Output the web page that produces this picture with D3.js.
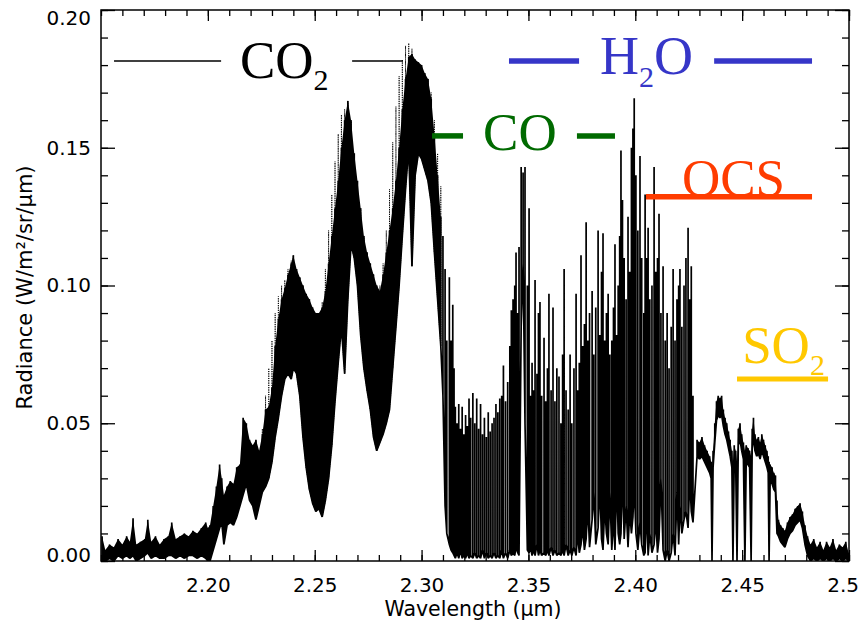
<!DOCTYPE html>
<html>
<head>
<meta charset="utf-8">
<script src="https://cdn.jsdelivr.net/npm/d3@7"></script>
<style>
	body { margin: 0; background: #fff; }
	svg { display: block; }
	.axis text { font-family: "DejaVu Sans", sans-serif; font-size: 20px; fill: #000; }
	.axis path { display: none; }
	.axis line { stroke: #000; stroke-width: 1.3; }
	.mol { font-family: "Liberation Serif", "Times New Roman", serif; }
</style>
</head>
<body>
<div id="chart"></div>
<script>
// continuum 2.15 - 2.20 um
var wlA = [2.1505,2.1520,2.1540,2.1560,2.1580,2.1600,2.1620,2.1635,2.1650,2.1665,
	2.1685,2.1705,2.1719,2.1735,2.1755,2.1775,2.1795,2.1815,2.1831,2.1850,
	2.1870,2.1890,2.1910,2.1930,2.1950,2.1970,2.1990,2.2000];
var hiA = [.009,.004,.006,.005,.008,.006,.009,.007,.0155,.006,
	.007,.008,.015,.007,.009,.006,.008,.009,.014,.008,
	.009,.010,.009,.011,.010,.012,.014,.012];
var loA = [0,0,.001,0,.002,.001,.002,.001,.002,0,
	.001,.002,.003,.001,.002,.001,.001,.002,.002,.001,
	.002,.001,.002,.002,.001,.002,.001,0];

// CO2 bands 2.20 - 2.31 um (upper / lower edge of the dense trace)
var wlB = [2.2010,2.2025,2.2040,2.2055,2.2065,2.2075,2.2090,2.2105,2.2120,2.2135,
	2.2150,2.2165,2.2180,2.2195,2.2210,2.2225,2.2240,2.2255,2.2270,2.2285,
	2.2300,2.2315,2.2330,2.2345,2.2360,2.2375,2.2390,2.2400,2.2415,2.2430,
	2.2445,2.2460,2.2475,2.2490,2.2505,2.2520,2.2535,2.2550,2.2565,2.2580,
	2.2595,2.2610,2.2625,2.2640,2.2655,2.2670,2.2685,2.2700,2.2715,2.2730,
	2.2745,2.2760,2.2775,2.2790,2.2805,2.2820,2.2835,2.2850,2.2865,2.2880,
	2.2895,2.2910,2.2925,2.2940,2.2955,2.2970,2.2985,2.3000,2.3015,2.3030,
	2.3045,2.3060,2.3075,2.3090];
var hiB = [.013,.020,.027,.035,.030,.024,.027,.029,.028,.034,
	.035,.052,.050,.044,.042,.044,.040,.046,.055,.056,
	.063,.078,.088,.095,.099,.104,.108,.111,.106,.103,
	.100,.097,.095,.092,.090,.090,.092,.098,.108,.118,
	.128,.138,.150,.160,.167,.160,.148,.138,.128,.118,
	.112,.108,.104,.100,.098,.104,.112,.120,.128,.138,
	.150,.164,.175,.183,.184,.182,.181,.180,.177,.175,
	.168,.155,.140,.125];
var loB = [.000,.004,.008,.012,.014,.006,.013,.014,.013,.016,
	.020,.024,.028,.022,.020,.015,.020,.025,.027,.030,
	.036,.045,.052,.060,.066,.068,.066,.070,.068,.060,
	.045,.034,.026,.021,.018,.019,.016,.022,.030,.042,
	.058,.072,.085,.068,.095,.115,.110,.100,.082,.070,
	.062,.055,.045,.040,.043,.046,.050,.055,.070,.085,
	.100,.118,.135,.150,.107,.140,.148,.146,.142,.138,
	.130,.112,.095,.078];

// resolved lines 2.31 - 2.346 um
var wlL1 = [2.3100,2.3110,2.3118,2.3130,2.3138,2.3146,2.3152,
	2.3158,2.3166,2.3174,2.3182,2.3190,2.3198,2.3206,2.3214,2.3222,2.3230,
	2.3240,2.3249,2.3258,2.3267,2.3276,2.3285,2.3294,2.3303,2.3312,2.3321,
	2.3330,2.3339,2.3348,2.3357,2.3366,2.3375,2.3383,2.3393,2.3403,2.3413,
	2.3420,2.3428,2.3436,2.3442,2.3450,2.3456];
var hiL1 = [.118,.106,.080,.103,.080,.093,.070,
	.056,.050,.057,.048,.056,.046,.053,.049,.059,.052,
	.061,.050,.059,.048,.057,.046,.052,.045,.054,.047,
	.050,.052,.057,.054,.059,.060,.071,.058,.065,.078,
	.091,.095,.100,.112,.090,.114];
var loL1 = [.060,.020,.010,.006,.004,.003,.002,
	.001,.003,.001,.004,.001,.002,.001,.003,.001,.002,
	.001,.003,.001,.002,.001,.004,.001,.003,.001,.002,
	.001,.003,.001,.002,.001,.004,.001,.003,.001,.004,
	.002,.003,.002,.005,.003,.002];

// resolved lines 2.346 - 2.428 um
var wlL2 = [2.3466,2.3475,2.3484,2.3495,2.3503,2.3510,2.3517,2.3524,2.3531,2.3540,
	2.3547,2.3554,2.3562,2.3573,2.3581,2.3589,2.3596,2.3606,2.3615,2.3624,
	2.3633,2.3643,2.3652,2.3660,2.3667,2.3676,2.3686,2.3695,2.3703,2.3713,
	2.3723,2.3730,2.3738,2.3746,2.3754,2.3762,2.3770,2.3778,2.3786,2.3798,
	2.3806,2.3815,2.3826,2.3834,2.3842,2.3849,2.3857,2.3865,2.3873,2.3881,
	2.3890,2.3898,2.3905,2.3913,2.3920,2.3927,2.3933,2.3940,2.3948,2.3957,
	2.3966,2.3974,2.3982,2.3989,2.3995,2.4003,2.4012,2.4022,2.4030,2.4040,
	2.4046,2.4053,2.4060,2.4068,2.4078,2.4088,2.4096,2.4104,2.4111,2.4120,
	2.4130,2.4140,2.4149,2.4158,2.4168,2.4177,2.4186,2.4195,2.4203,2.4209,
	2.4218,2.4228,2.4237,2.4247,2.4255,2.4262,2.4270];
var hiL2 = [.143,.141,.143,.100,.128,.060,.072,.062,.102,.068,
	.090,.094,.060,.081,.058,.070,.097,.062,.092,.058,
	.070,.067,.050,.075,.106,.062,.055,.075,.050,.070,
	.097,.062,.072,.111,.078,.086,.123,.080,.090,.098,
	.075,.092,.120,.082,.105,.119,.080,.090,.097,.075,
	.080,.092,.115,.082,.100,.118,.149,.131,.110,.095,
	.125,.105,.150,.157,.168,.140,.120,.147,.110,.090,
	.133,.110,.121,.095,.100,.143,.105,.110,.126,.090,
	.107,.080,.090,.070,.085,.106,.080,.095,.100,.106,
	.085,.100,.110,.121,.095,.107,.060];
var loL2 = [.085,.108,.050,.004,.003,.005,.002,.004,.002,.006,
	.002,.004,.002,.003,.002,.004,.002,.005,.002,.004,
	.002,.003,.002,.004,.002,.006,.002,.004,.002,.005,
	.002,.010,.003,.006,.012,.004,.008,.020,.005,.015,
	.025,.006,.012,.028,.008,.004,.020,.010,.006,.025,
	.004,.015,.004,.030,.010,.006,.010,.032,.008,.020,
	.005,.018,.010,.016,.028,.010,.004,.014,.006,.002,
	.003,.020,.002,.010,.003,.006,.015,.003,.008,.030,
	.004,.000,.004,.000,.003,.010,.002,.025,.006,.020,
	.010,.015,.018,.012,.030,.018,.014];

// tail 2.428 - 2.50 um
var wlC = [2.4289,2.4300,2.4312,2.4324,2.4336,2.4348,2.4355,2.4359,2.4364,2.4372,
	2.4380,2.4388,2.4396,2.4404,2.4412,2.4420,2.4428,2.4436,2.4444,2.4452,
	2.4457,2.4463,2.4470,2.4476,2.4482,2.4490,2.4498,2.4506,2.4513,2.4519,
	2.4527,2.4535,2.4542,2.4547,2.4553,2.4560,2.4568,2.4576,2.4584,2.4592,
	2.4600,2.4608,2.4616,2.4622,2.4626,2.4631,2.4640,2.4648,2.4656,2.4663,
	2.4670,2.4680,2.4690,2.4700,2.4712,2.4724,2.4736,2.4748,2.4760,2.4771,
	2.4782,2.4794,2.4806,2.4820,2.4835,2.4850,2.4865,2.4880,2.4895,2.4910,
	2.4925,2.4940,2.4955,2.4970,2.4985,2.4998];
var hiC = [.044,.043,.045,.042,.040,.038,.036,.034,.040,.050,
	.058,.060,.059,.060,.055,.052,.050,.047,.044,.040,
	.036,.042,.040,.036,.048,.050,.046,.043,.040,.042,
	.041,.040,.038,.048,.052,.046,.044,.045,.043,.046,
	.044,.042,.040,.038,.036,.035,.034,.032,.031,.022,
	.015,.013,.012,.011,.014,.016,.017,.019,.020,.021,
	.018,.013,.009,.006,.008,.005,.007,.004,.007,.005,
	.008,.004,.006,.005,.007,.003];
var loC = [.038,.037,.038,.036,.034,.032,.030,.000,.034,.043,
	.051,.053,.052,.053,.049,.046,.044,.041,.038,.034,
	.000,.036,.034,.000,.042,.044,.040,.037,.000,.036,
	.035,.034,.000,.041,.045,.040,.038,.039,.037,.040,
	.038,.036,.034,.032,.000,.029,.028,.026,.025,.010,
	.009,.007,.006,.005,.008,.010,.011,.013,.014,.015,
	.012,.006,.002,.000,.001,.000,.001,.000,.001,.000,
	.001,.000,.001,.000,.001,.000];

// model (dotted), upper edge where it shows above the observation
var modelWl = [2.2255,2.2270,2.2285,2.2300,2.2315,2.2330,2.2345,2.2360,2.2375,2.2390,
	2.2400,2.2415,2.2430,2.2445,2.2460,2.2475,2.2490,2.2505,2.2520,2.2535,
	2.2550,2.2565,2.2580,2.2595,2.2610,2.2625,2.2640,2.2655,2.2670,2.2685,
	2.2700,2.2715,2.2730,2.2745,2.2760,2.2775,2.2790,2.2805,2.2820,2.2835,
	2.2850,2.2865,2.2880,2.2895,2.2910,2.2925,2.2940,2.2955,2.2970,2.2985,
	2.3000,2.3015,2.3030,2.3045,2.3060,2.3075,2.3090];
var modelHi = [.048,.060,.070,.080,.090,.096,.100,.102,.106,.109,
	.111,.106,.103,.100,.097,.095,.092,.090,.090,.094,
	.106,.120,.133,.145,.155,.162,.164,.167,.160,.148,
	.138,.128,.118,.112,.108,.104,.100,.100,.108,.120,
	.135,.152,.165,.176,.182,.187,.188,.186,.182,.181,
	.180,.177,.175,.170,.160,.148,.136];

var xTicks = [2.20, 2.25, 2.30, 2.35, 2.40, 2.45, 2.50];
var yTicks = [0.00, 0.05, 0.10, 0.15, 0.20];

(function(){
	var W = 859, H = 627;
	// dense parts drawn filled between the two edges
	function filled(d){ return d.w <= 2.3095 || d.w >= 2.4285; }

	var x = d3.scaleLinear().domain([2.15, 2.50]).range([101, 849]);
	var y = d3.scaleLinear().domain([0, 0.20]).range([561, 10]);
	var x0 = x.range()[0], x1 = x.range()[1], y0 = y.range()[0], y1 = y.range()[1];

	var svg = d3.select("#chart").append("svg")
		.attr("width", W)
		.attr("height", H);

	svg.append("clipPath").attr("id", "plotclip")
		.append("rect")
		.attr("x", x0).attr("y", y1)
		.attr("width", x1 - x0)
		.attr("height", y0 - y1);

	// spectrum
	var wlAll = [].concat(wlA, wlB, wlL1, wlL2, wlC);
	var hiAll = [].concat(hiA, hiB, hiL1, hiL2, hiC);
	var loAll = [].concat(loA, loB, loL1, loL2, loC);
	var obs = wlAll.map(function(w, i){ return {w: w, hi: hiAll[i], lo: loAll[i]}; });
	var loByWl = new Map(obs.map(function(d){ return [d.w, d.lo]; }));
	var model = modelWl.map(function(w, i){ return {w: w, hi: modelHi[i], lo: loByWl.get(w)}; });

	// each sample: up to its top and back down, then on to the next one
	function spikes(pts){
		var out = [];
		pts.forEach(function(d){
			out.push([d.w, d.lo], [d.w, d.hi], [d.w, d.lo]);
		});
		return out;
	}
	var line = d3.line()
		.x(function(p){ return x(p[0]); })
		.y(function(p){ return y(p[1]); });

	var plot = svg.append("g").attr("clip-path", "url(#plotclip)");

	plot.append("path")
		.attr("d", line(spikes(model)))
		.attr("fill", "none")
		.attr("stroke", "#000")
		.attr("stroke-width", 1)
		.attr("stroke-dasharray", "1,1.3");

	plot.append("path")
		.datum(obs)
		.attr("d", d3.area()
			.defined(filled)
			.x(function(d){ return x(d.w); })
			.y0(function(d){ return y(d.lo); })
			.y1(function(d){ return y(d.hi); }))
		.attr("fill", "#000");

	plot.append("path")
		.attr("d", line(spikes(obs)))
		.attr("fill", "none")
		.attr("stroke", "#000")
		.attr("stroke-width", 1.7)
		.attr("stroke-linejoin", "bevel");

	// axes, ticks inward on all four sides
	var fmt = d3.format(".2f");
	var minorX = x.ticks(35), minorY = y.ticks(20);

	svg.append("g").attr("class", "axis").attr("transform", "translate(0," + y0 + ")")
		.call(d3.axisBottom(x).tickValues(minorX).tickSizeInner(-6).tickSizeOuter(0).tickFormat(""));
	svg.append("g").attr("class", "axis").attr("transform", "translate(0," + y0 + ")")
		.call(d3.axisBottom(x).tickValues(xTicks).tickSizeInner(-11).tickSizeOuter(0).tickPadding(17).tickFormat(fmt));
	svg.append("g").attr("class", "axis").attr("transform", "translate(0," + y1 + ")")
		.call(d3.axisTop(x).tickValues(minorX).tickSizeInner(-6).tickSizeOuter(0).tickFormat(""));
	svg.append("g").attr("class", "axis").attr("transform", "translate(0," + y1 + ")")
		.call(d3.axisTop(x).tickValues(xTicks).tickSizeInner(-11).tickSizeOuter(0).tickFormat(""));

	svg.append("g").attr("class", "axis").attr("transform", "translate(" + x0 + ",0)")
		.call(d3.axisLeft(y).tickValues(minorY).tickSizeInner(-7).tickSizeOuter(0).tickFormat(""));
	var yAxis = svg.append("g").attr("class", "axis").attr("transform", "translate(" + x0 + ",0)")
		.call(d3.axisLeft(y).tickValues(yTicks).tickSizeInner(-14).tickSizeOuter(0).tickPadding(10).tickFormat(fmt));
	svg.append("g").attr("class", "axis").attr("transform", "translate(" + x1 + ",0)")
		.call(d3.axisRight(y).tickValues(minorY).tickSizeInner(-7).tickSizeOuter(0).tickFormat(""));
	svg.append("g").attr("class", "axis").attr("transform", "translate(" + x1 + ",0)")
		.call(d3.axisRight(y).tickValues(yTicks).tickSizeInner(-14).tickSizeOuter(0).tickFormat(""));

	// end labels sit a little inside the box
	yAxis.selectAll(".tick text").attr("y", function(d){
		if (d === 0) return -6;
		if (d === 0.2) return 8;
		return 0;
	});

	svg.append("rect")
		.attr("x", x0).attr("y", y1)
		.attr("width", x1 - x0).attr("height", y0 - y1)
		.attr("fill", "none").attr("stroke", "#000").attr("stroke-width", 1.5);

	svg.append("text")
		.attr("x", (x0 + x1) / 2 - 2).attr("y", 616)
		.attr("text-anchor", "middle")
		.style("font-family", "DejaVu Sans, sans-serif").style("font-size", "20.5px")
		.text("Wavelength (μm)");

	svg.append("text")
		.attr("transform", "translate(32," + ((y0 + y1) / 2 + 2) + ") rotate(-90)")
		.attr("text-anchor", "middle")
		.style("font-family", "DejaVu Sans, sans-serif").style("font-size", "21px")
		.text("Radiance (W/m²/sr/μm)");

	// molecule labels
	function bar(w1, w2, v, color, width){
		svg.append("line")
			.attr("x1", x(w1)).attr("x2", x(w2))
			.attr("y1", y(v)).attr("y2", y(v))
			.attr("stroke", color).attr("stroke-width", width);
	}
	function label(parts, w, v, color){
		var t = svg.append("text").attr("class", "mol")
			.attr("x", x(w)).attr("y", y(v))
			.attr("fill", color);
		parts.forEach(function(p){
			t.append("tspan").attr("font-size", p[1]).attr("dy", p[2] || 0).text(p[0]);
		});
	}

	bar(2.1561, 2.2062, 0.1815, "#000", 1.5);
	bar(2.2675, 2.2913, 0.1815, "#000", 1.5);
	label([["CO", 53], ["2", 30, 12]], 2.2150, 0.1753, "#000");

	bar(2.3409, 2.3737, 0.1815, "#3636c8", 5.5);
	bar(2.4369, 2.4827, 0.1815, "#3636c8", 5.5);
	label([["H", 54], ["2", 30, 13], ["O", 54, -13]], 2.3835, 0.1768, "#3636c8");

	bar(2.3049, 2.3194, 0.1543, "#006a00", 5.5);
	bar(2.3727, 2.3905, 0.1543, "#006a00", 5.5);
	label([["CO", 53]], 2.3288, 0.1492, "#006a00");

	label([["OCS", 53]], 2.4218, 0.1325, "#ff3c00");
	bar(2.4050, 2.4827, 0.1322, "#ff3c00", 5.5);

	label([["SO", 53], ["2", 30, 12]], 2.4500, 0.0719, "#ffc800");
	bar(2.4476, 2.4902, 0.0661, "#ffc800", 5);
})();
</script>
</body>
</html>
